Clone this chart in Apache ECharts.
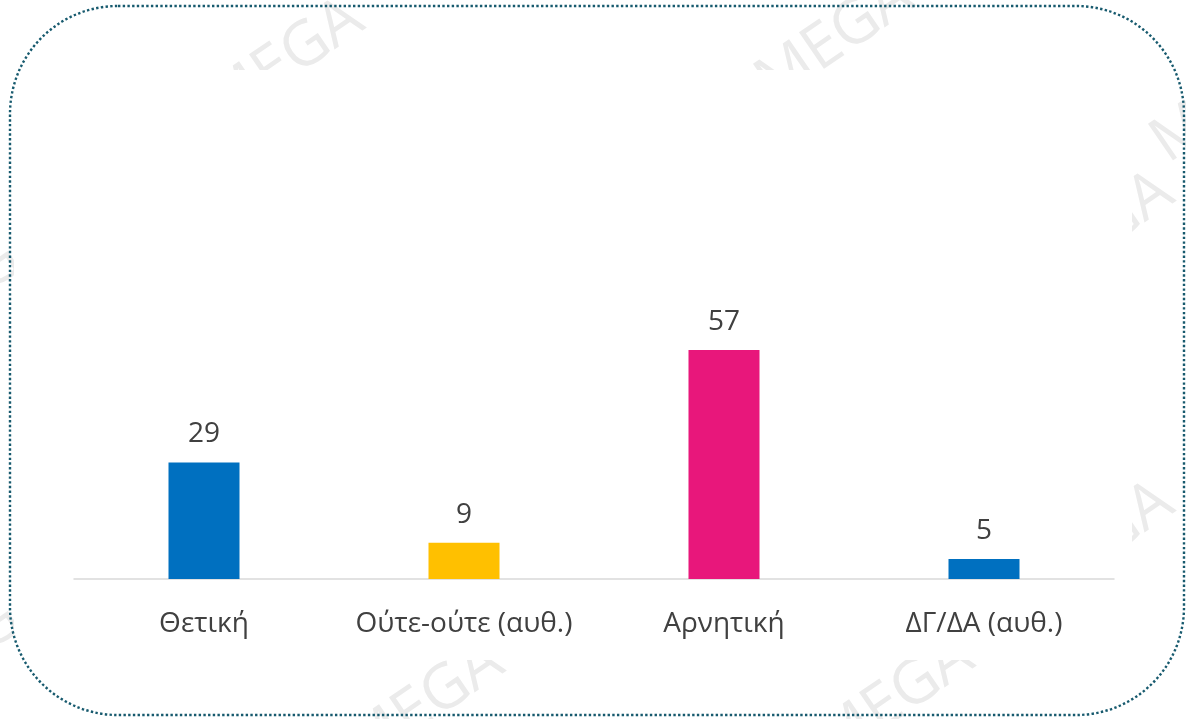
<!DOCTYPE html>
<html>
<head>
<meta charset="utf-8">
<script src="https://cdn.jsdelivr.net/npm/echarts@6/dist/echarts.min.js"></script>
<style>
    html, body { margin: 0; padding: 0; background: #fff; }
    #chart { width: 1186px; height: 719px; }
</style>
</head>
<body>
<div id="chart"></div>
<script>
    // κατηγορίες και τιμές
    var categories = ['Θετική', 'Ούτε-ούτε (αυθ.)', 'Αρνητική', 'ΔΓ/ΔΑ (αυθ.)'];
    var values = [29, 9, 57, 5];
    var barColors = ['#0070C0', '#FFC000', '#E8177B', '#0070C0'];

    // υδατογραφήματα MEGA (θέση x, y)
    var marks = [[285, 62], [835, 40], [1095, 235], [1230, 100], [1095, 545], [425, 705], [895, 700], [-25, 280], [-25, 640]];

    var graphics = [];
    for (var i = 0; i < marks.length; i++) {
        graphics.push({
            type: 'text',
            x: marks[i][0],
            y: marks[i][1],
            rotation: 0.6,
            z: 0,
            style: {
                text: 'MEGA',
                fill: '#ebebeb',
                font: '62px "Open Sans", sans-serif',
                align: 'center',
                verticalAlign: 'middle'
            }
        });
    }
    // λευκή περιοχή γραφήματος
    graphics.push({
        type: 'rect',
        z: 1,
        shape: { x: 14, y: 70, width: 1118, height: 590 },
        style: { fill: '#fff' }
    });
    // διακεκομμένο πλαίσιο
    graphics.push({
        type: 'rect',
        z: 10,
        shape: { x: 10, y: 6, width: 1174, height: 709, r: 108 },
        style: { fill: 'none', stroke: '#175A6E', lineWidth: 2.4, lineDash: [2.4, 2.3] }
    });

    var myChart = echarts.init(document.getElementById('chart'));
    var option = {
        animation: false,
        backgroundColor: '#fff',
        graphic: graphics,
        grid: { left: 74, right: 72, top: 338, bottom: 140 },
        xAxis: {
            type: 'category',
            z: 5,
            data: categories,
            axisLine: { lineStyle: { color: '#D9D9D9', width: 1.5 } },
            axisTick: { show: false },
            axisLabel: {
                interval: 0,
                color: '#404040',
                fontSize: 28,
                fontFamily: 'Open Sans',
                margin: 31
            }
        },
        yAxis: {
            type: 'value',
            min: 0,
            max: 60,
            show: false,
            splitLine: { show: false }
        },
        series: [{
            type: 'bar',
            z: 6,
            barWidth: 71,
            data: values.map(function(v, i) {
                return { value: v, itemStyle: { color: barColors[i] } };
            }),
            label: {
                show: true,
                position: 'top',
                distance: 14,
                color: '#404040',
                fontSize: 28,
                fontFamily: 'Open Sans'
            }
        }]
    };
    myChart.setOption(option);
</script>
</body>
</html>
